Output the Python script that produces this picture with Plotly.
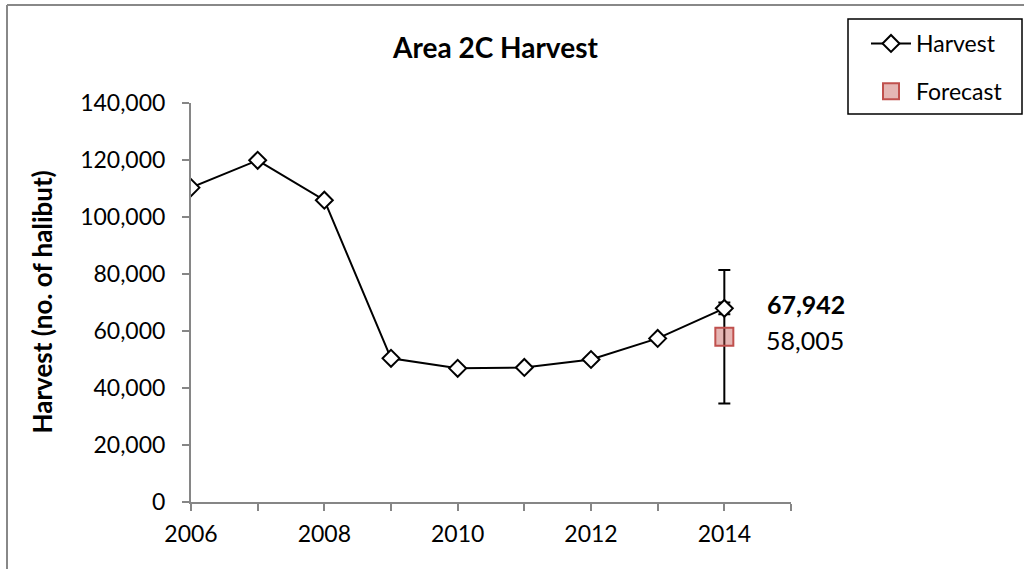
import plotly.graph_objects as go

years = [2006, 2007, 2008, 2009, 2010, 2011, 2012, 2013, 2014]
harvest = [110300, 119900, 105900, 50400, 46900, 47200, 50000, 57400, 67942]
harvest_err = [0, 0, 0, 0, 0, 0, 0, 0, 2100]
forecast_year = [2014]
forecast = [58005]
forecast_err = [23400]
xtick_vals = [2006, 2007, 2008, 2009, 2010, 2011, 2012, 2013, 2014, 2015]
xtick_text = ["2006", "", "2008", "", "2010", "", "2012", "", "2014", ""]
ytick_vals = [0, 20000, 40000, 60000, 80000, 100000, 120000, 140000]

FONT = "Lato"
AXIS = "#868686"
W, H = 1024, 569
L, R, T, B = 191, 233, 103, 67
PW, PH = W - L - R, H - T - B


def px_x(p):
    return (p - L) / PW


def px_y(p):
    return (H - B - p) / PH


fig = go.Figure()
fig.add_trace(go.Scatter(
    x=forecast_year, y=forecast, name="Forecast", mode="markers",
    legendgroup="f", legendrank=2,
    marker=dict(symbol="square", size=18, color="rgba(192,80,77,0.42)",
                line=dict(color="#c0504d", width=2)),
    error_y=dict(type="data", array=forecast_err, visible=True,
                 color="black", thickness=2, width=6),
))
fig.add_trace(go.Scatter(
    x=years, y=harvest, name="Harvest", mode="lines+markers",
    legendgroup="h", legendrank=1,
    line=dict(color="black", width=2),
    marker=dict(symbol="diamond", size=13, color="white",
                line=dict(color="black", width=2)),
    error_y=dict(type="data", array=harvest_err, visible=True,
                 color="black", thickness=2, width=6),
))

fig.add_annotation(x=forecast_year[0], y=harvest[-1], xref="x", yref="y",
                   text="<b>{:,}</b>".format(harvest[-1]), showarrow=False,
                   xanchor="left", xshift=41, yshift=4,
                   font=dict(family=FONT, size=25, color="black"))
fig.add_annotation(x=forecast_year[0], y=forecast[0], xref="x", yref="y",
                   text="{:,}".format(forecast[0]), showarrow=False,
                   xanchor="left", xshift=40, yshift=-3,
                   font=dict(family=FONT, size=25, color="black"))
fig.add_annotation(x=px_x(41), y=0.5, xref="paper", yref="paper",
                   text="<b>Harvest (no. of halibut)</b>", textangle=-90,
                   showarrow=False, xanchor="center", yanchor="middle",
                   font=dict(family=FONT, size=26, color="black"))

# chart-area border (left and top edges visible)
fig.add_shape(type="line", xref="paper", yref="paper",
              x0=px_x(7), x1=px_x(7), y0=px_y(600), y1=px_y(5),
              line=dict(color="#888888", width=2))
fig.add_shape(type="line", xref="paper", yref="paper",
              x0=px_x(7), x1=px_x(1100), y0=px_y(5), y1=px_y(5),
              line=dict(color="#888888", width=2))
# legend box
fig.add_shape(type="rect", xref="paper", yref="paper",
              x0=px_x(848), x1=px_x(1022), y0=px_y(114), y1=px_y(19),
              line=dict(color="black", width=1.5), fillcolor="rgba(0,0,0,0)")

fig.update_layout(
    width=W, height=H,
    margin=dict(l=L, r=R, t=T, b=B),
    paper_bgcolor="white", plot_bgcolor="white",
    font=dict(family=FONT, size=23, color="black"),
    title=dict(text="<b>Area 2C Harvest</b>", x=393 / W, xanchor="left",
               y=1 - 48 / H, yanchor="middle",
               font=dict(family=FONT, size=28, color="black")),
    showlegend=True,
    legend=dict(x=px_x(866), y=px_y(22), xanchor="left", yanchor="top",
                borderwidth=0, bgcolor="rgba(0,0,0,0)",
                traceorder="grouped", tracegroupgap=15, itemwidth=40,
                font=dict(family=FONT, size=23, color="black")),
    xaxis=dict(range=[2006, 2015], tickvals=xtick_vals, ticktext=xtick_text,
               showline=True, linecolor=AXIS, linewidth=2, ticks="outside",
               ticklen=7, tickwidth=2, tickcolor=AXIS, showgrid=False,
               zeroline=False, ticklabelstandoff=3,
               tickfont=dict(family=FONT, size=23)),
    yaxis=dict(range=[0, 140000], tickvals=ytick_vals, tickformat=",",
               showline=True, linecolor=AXIS, linewidth=2, ticks="outside",
               ticklen=7, tickwidth=2, tickcolor=AXIS, showgrid=False,
               zeroline=False, ticklabelstandoff=12,
               tickfont=dict(family=FONT, size=23)),
)

fig.write_html("out.html", config={"displayModeBar": False},
               post_script="document.body.style.margin='0px';"
                           "document.body.style.overflow='hidden';")
